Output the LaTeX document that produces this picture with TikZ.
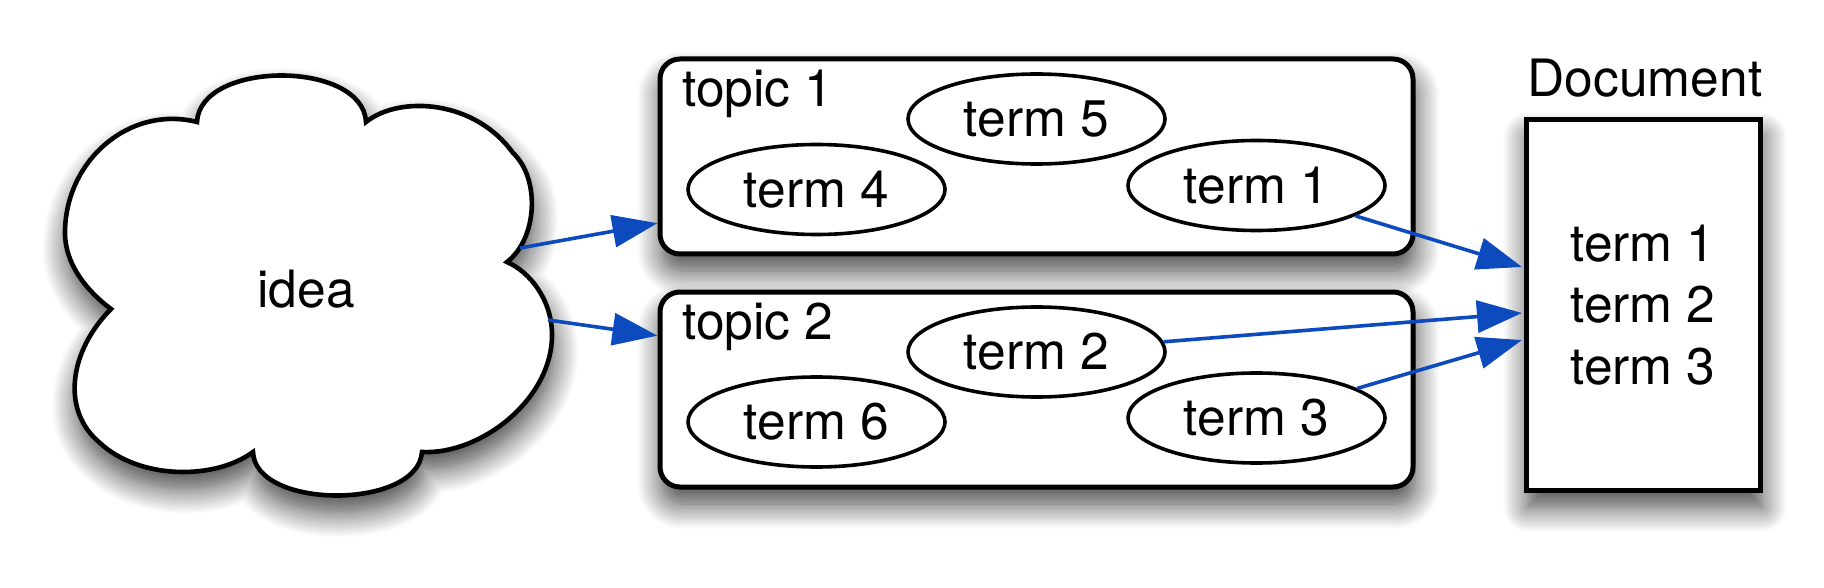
\documentclass[tikz,border=0pt]{standalone}
\usepackage{fontspec}
\setmainfont{TeX Gyre Heros}
\usetikzlibrary{shapes.geometric,arrows.meta,shadows.blur}
\definecolor{arrowblue}{RGB}{12,74,190}
\begin{document}
\begin{tikzpicture}[x=1pt,y=-1pt,
  shd/.style={blur shadow={shadow xshift=2pt,shadow yshift=-17pt,shadow blur radius=25pt,shadow opacity=75,shadow blur steps=18}},
  txt/.style={font=\fontsize{51.5}{61.5}\selectfont, inner sep=0pt},
  topicbox/.style={draw, line width=5pt, fill=white, rounded corners=20pt, minimum width=753pt, minimum height=195pt, shd},
  termell/.style={draw, ellipse, line width=3.6pt, fill=white, minimum width=257pt, minimum height=90pt, inner sep=0pt, txt},
  docbox/.style={draw, line width=5pt, fill=white, minimum width=234pt, minimum height=370pt, align=center, txt, shd},
  arr/.style={draw=arrowblue, line width=3.6pt, -{Triangle[length=45pt,width=32pt,fill=arrowblue]}},
  cloudline/.style={draw, line width=4.6pt, fill=white, shd}
]
\useasboundingbox (0,0) rectangle (1824,588);

% cloud
\path[cloudline] (111,309)
 .. controls (88,292) and (65,265) .. (65,233)
 .. controls (65,160) and (130,105) .. (197,122)
 .. controls (200,60) and (363,60) .. (366,122)
 .. controls (400,95) and (475,100) .. (513,153)
 .. controls (540,178) and (538,238) .. (507,262)
 .. controls (530,272) and (552,300) .. (552,335)
 .. controls (552,400) and (480,455) .. (422,452)
 .. controls (418,510) and (255,510) .. (253,452)
 .. controls (215,480) and (140,480) .. (100,443)
 .. controls (60,410) and (70,350) .. (111,309) -- cycle;
\node[txt] (idea) at (306,289) {idea};
\coordinate (c1) at (520,248);
\coordinate (c2) at (548,320);

% topic boxes
\node[topicbox] (topic1) at (1036.5,156.5) {};
\node[topicbox] (topic2) at (1036.5,389.5) {};
\node[txt, anchor=base west] (topic1lbl) at (682,107) {topic 1};
\node[txt, anchor=base west] (topic2lbl) at (682,339) {topic 2};

% terms
\node[termell] (t5) at (1036.5,119) {term 5};
\node[termell] (t4) at (816.5,189.5) {term 4};
\node[termell] (t1) at (1256.5,185.5) {term 1};
\node[termell] (t2) at (1036.5,352) {term 2};
\node[termell] (t6) at (816.5,422) {term 6};
\node[termell] (t3) at (1256.5,418) {term 3};

% document
\node[docbox] (doc) at (1643,305) {term 1\\term 2\\term 3};
\node[txt, anchor=base] (doclbl) at (1645,97) {Document};
\coordinate (d1) at (1522,267);
\coordinate (d2) at (1522,313);
\coordinate (d3) at (1522,340);

% connectors
\draw[arr] (c1) -- (topic1);
\draw[arr] (c2) -- (topic2);
\draw[arr] (t1) -- (d1);
\draw[arr] (t2) -- (d2);
\draw[arr] (t3) -- (d3);
\end{tikzpicture}
\end{document}
